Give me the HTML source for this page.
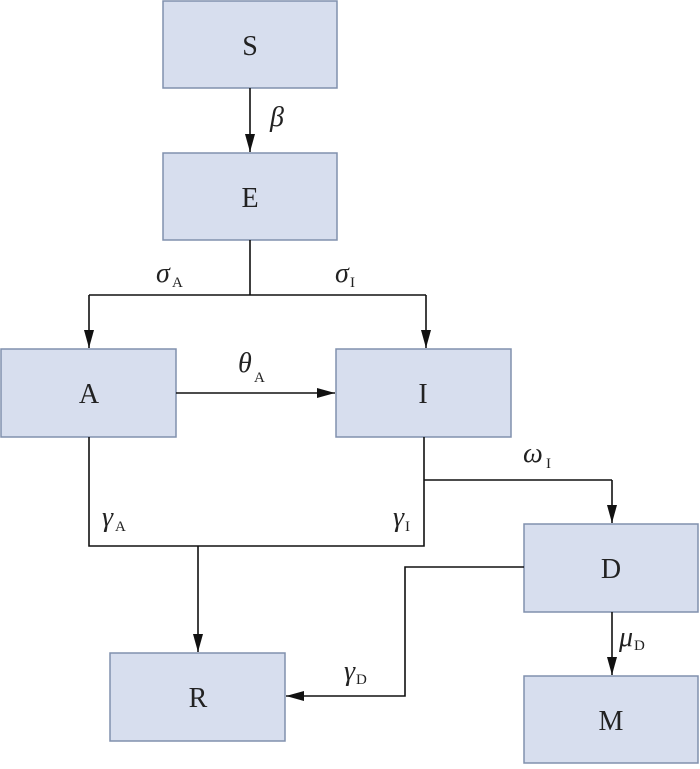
<!DOCTYPE html>
<html><head><style>body{margin:0;background:#fff}</style></head><body>
<svg width="700" height="764" viewBox="0 0 700 764" xmlns="http://www.w3.org/2000/svg" font-family="Liberation Serif, serif">
<defs>
<marker id="b" viewBox="0 0 18 10" markerWidth="18" markerHeight="10" refX="18" refY="5" orient="auto" markerUnits="userSpaceOnUse"><path d="M0,0 L18,5 L0,10 z" fill="#111"/></marker></defs>
<g fill="#d7deee" stroke="#8090ad" stroke-width="1.5">
<rect x="163" y="1" width="174" height="87"/>
<rect x="163" y="153" width="174" height="87"/>
<rect x="1" y="349" width="175" height="88"/>
<rect x="336" y="349" width="175" height="88"/>
<rect x="524" y="524" width="174" height="88"/>
<rect x="110" y="653" width="175" height="88"/>
<rect x="524" y="676" width="174" height="87"/>
</g>
<g stroke="#111" stroke-width="1.6" fill="none">
<path d="M250 88V152" marker-end="url(#b)"/>
<path d="M250 240V295M89 295H426"/>
<path d="M89 295V348" marker-end="url(#b)"/>
<path d="M426 295V348" marker-end="url(#b)"/>
<path d="M176 393H335" marker-end="url(#b)"/>
<path d="M89 437V546H424V437M424 480H612"/>
<path d="M612 480V523" marker-end="url(#b)"/>
<path d="M198 546V652" marker-end="url(#b)"/>
<path d="M612 612V675" marker-end="url(#b)"/>
<path d="M524 567H405V696H286" marker-end="url(#b)"/>
</g>
<g font-size="28" text-anchor="middle" fill="#222">
<text x="250" y="55">S</text><text x="250" y="207">E</text><text x="89" y="403">A</text><text x="423" y="403">I</text><text x="611" y="578">D</text><text x="198" y="707">R</text><text x="611" y="730">M</text>
</g>
<g font-size="28" font-style="italic" fill="#222">
<text x="270" y="126">β</text>
<text x="156" y="282">σ</text><text x="335" y="282">σ</text>
<text x="238" y="372">θ</text>
<text x="523" y="462">ω</text>
<text x="102" y="526">γ</text><text x="393" y="526">γ</text>
<text x="619" y="646">μ</text>
<text x="344" y="680">γ</text>
</g>
<g font-size="15" fill="#222">
<text x="172" y="287">A</text><text x="350" y="287">I</text><text x="254" y="382">A</text><text x="546" y="468">I</text>
<text x="115" y="531">A</text><text x="405" y="531">I</text><text x="634" y="650">D</text><text x="356" y="684">D</text>
</g>
</svg>
</body></html>
